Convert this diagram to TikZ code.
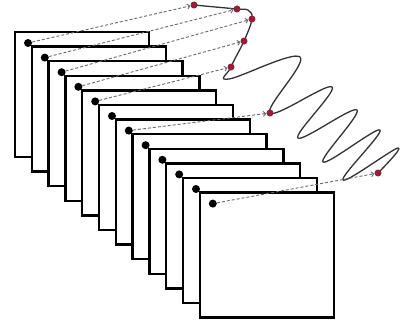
\documentclass[tikz,border=0pt]{standalone}
\usetikzlibrary{arrows.meta}
\definecolor{dotred}{RGB}{150,30,55}
\definecolor{arrgray}{RGB}{105,105,105}
\begin{document}
\begin{tikzpicture}[x=1pt,y=-1pt,
 frame/.style={draw=black, line width=2.4pt, fill=white, minimum width=134pt, minimum height=125pt, anchor=north west, inner sep=0pt, outer sep=0pt},
 blackdot/.style={circle, fill=black, minimum size=8pt, inner sep=0pt},
 reddot/.style={circle, fill=dotred, minimum size=7pt, inner sep=0pt},
 link/.style={arrgray, line width=0.9pt, dash pattern=on 3pt off 2pt, -{Straight Barb[length=2.5pt,width=5pt]}},
 wave/.style={draw=black!80, line width=1.3pt, line join=round}]
\useasboundingbox (0,0) rectangle (400,322);
\foreach \i in {1,...,12} {
  \pgfmathsetmacro\fx{15+(\i-1)*16.8}
  \pgfmathsetmacro\fy{32+(\i-1)*14.6}
  \node[frame] (f\i) at (\fx,\fy) {};
}
\foreach \i in {1,...,12} {
  \coordinate (c\i) at ([xshift=13pt,yshift=-11pt]f\i.north west);
}
\coordinate (r1) at (194,5);
\coordinate (r2) at (237,9);
\coordinate (r3) at (252,19);
\coordinate (r4) at (244,41);
\coordinate (r5) at (231,67);
\coordinate (r6) at (270,113);
\coordinate (r7) at (378,173);
\draw[wave] plot[smooth, tension=0.65] coordinates {(r1) (r2) (248,10) (r3) (r4) (r5) (229,79) (300,57) (r6) (332,87) (298,138) (357,110) (323,162) (380,130) (343,180) (398,148) (r7)};
\foreach \i in {1,...,7} {
  \node[reddot] (R\i) at (r\i) {};
}
\foreach \i in {1,...,12} {
  \node[blackdot] (d\i) at (c\i) {};
}
\draw[link] (d1) -- (R1);
\draw[link] (d2) -- (R2);
\draw[link] (d3) -- (R3);
\draw[link] (d4) -- (R4);
\draw[link] (d5) -- (R5);
\draw[link] (d7) -- (R6);
\draw[link] (d12) -- (R7);
\end{tikzpicture}
\end{document}
